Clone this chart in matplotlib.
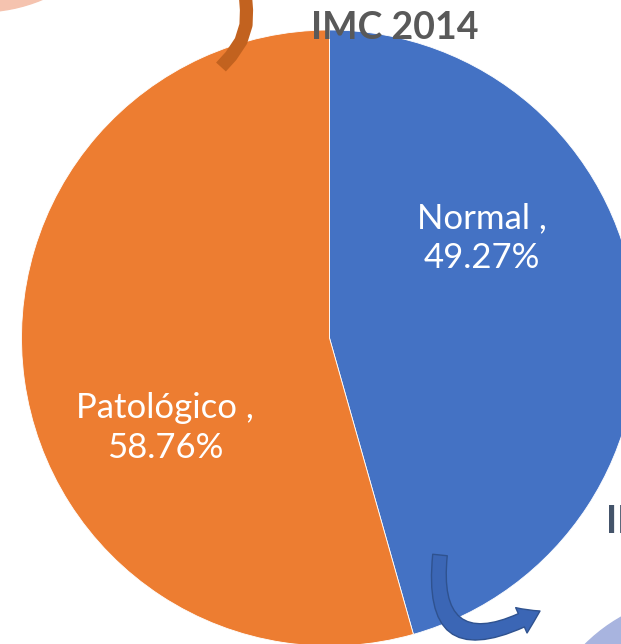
import matplotlib.pyplot as plt
from matplotlib.patches import Circle, FancyArrowPatch
from matplotlib.path import Path

# pie data (values as printed on the chart)
categories = ["Normal", "Patológico"]
values = [49.27, 58.76]
colors = ["#4472C4", "#ED7D31"]
title = "IMC 2014"

W, H = 621, 644
plt.rcParams['font.family'] = ['Lato', 'DejaVu Sans']

fig = plt.figure(figsize=(W / 100, H / 100), dpi=100)
ax = fig.add_axes([0, 0, 1, 1])

def py(y):
    # pixel row (from top) -> data y
    return H - y

# decorative circles from the neighbouring slides
ax.add_patch(Circle((-20, py(-150)), 162, color='#F5C3AF', zorder=0))
ax.add_patch(Circle((705, py(765)), 170, color='#A8B4DF', zorder=0))

# the pie
cx, cy, r = 329.5, py(338), 308
ax.pie(values, colors=colors, startangle=90, counterclock=False,
       center=(cx, cy), radius=r, frame=True,
       wedgeprops=dict(edgecolor='white', linewidth=0.6))
ax.set_xlim(0, W)
ax.set_ylim(0, H)
ax.axis('off')

# data labels
label_pos = [(482, 238), (165, 428)]
for name, v, (lx, ly) in zip(categories, values, label_pos):
    ax.text(lx, py(ly), "{} ,\n{:.2f}%".format(name, v), color='white',
            fontsize=25, ha='center', va='center', linespacing=1.28)

ax.text(395, py(39), title, fontsize=27, fontweight='bold', color='#595959',
        ha='center', va='baseline')
ax.text(606, py(533), "IMC 2015", fontsize=27, fontweight='bold',
        color='#44546A', ha='left', va='baseline')

# curved arrow tail at the top
tx = [245, 246.5, 246, 241, 231, 221]
ty = [-10, 10, 25, 41, 56, 67]
ax.plot(tx, [py(t) for t in ty], color='#C2621F', linewidth=9.5,
        solid_capstyle='butt', zorder=5)

# curved blue arrow at the bottom
verts = [(440, py(555)), (428, py(672)), (540, py(611))]
arrow = FancyArrowPatch(path=Path(verts, [Path.MOVETO, Path.CURVE3, Path.CURVE3]),
                        arrowstyle='simple,head_length=1.5,head_width=2.0,tail_width=1.05',
                        mutation_scale=10, facecolor='#3B66B5', edgecolor='#2F528F',
                        linewidth=1, zorder=5)
ax.add_patch(arrow)

fig.savefig('out.png', dpi=100)
